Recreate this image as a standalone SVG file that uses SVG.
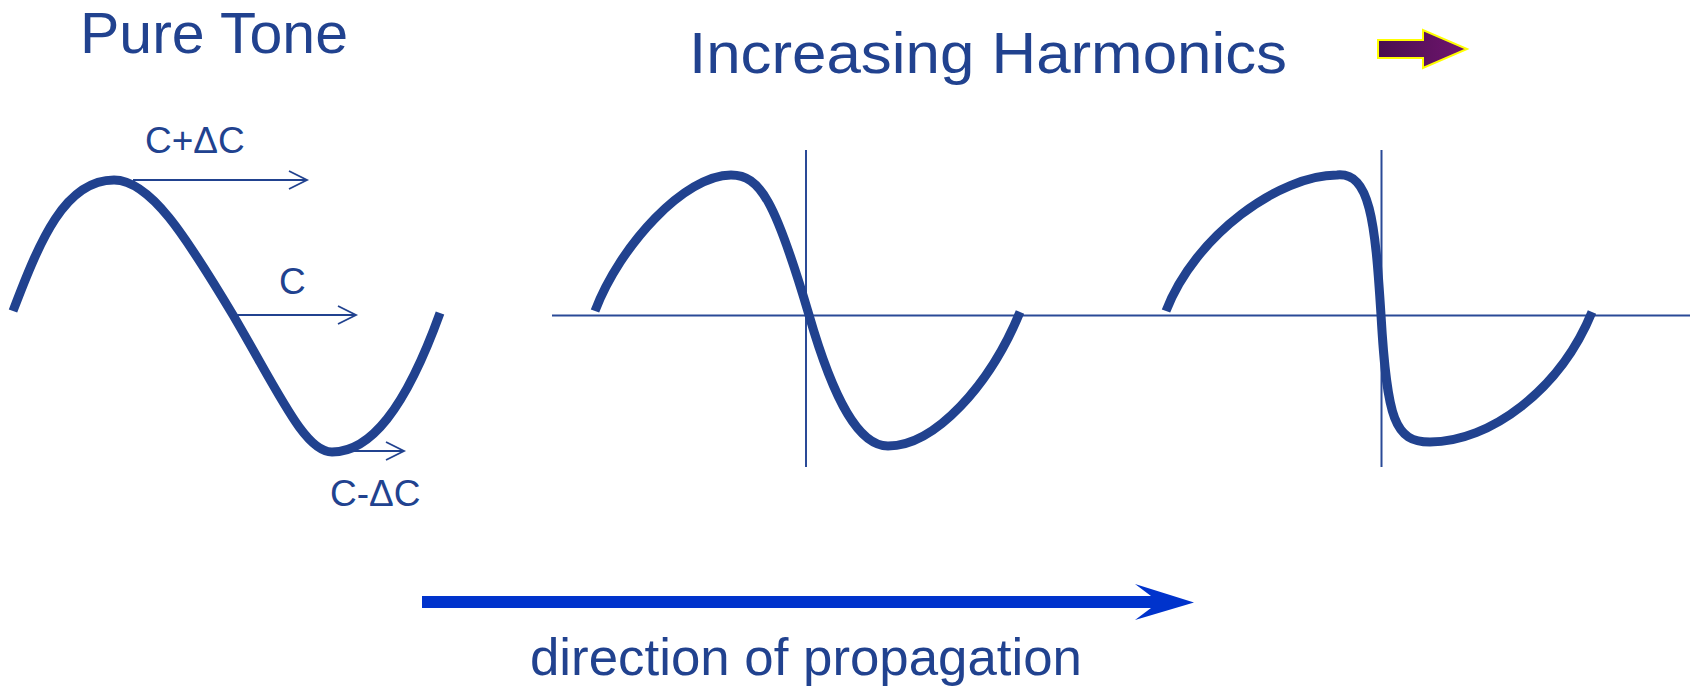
<svg xmlns="http://www.w3.org/2000/svg" width="1696" height="687" viewBox="0 0 1696 687">
  <defs>
    <style>
      .t { font-family: "Liberation Sans", Arial, sans-serif; fill: #21428F; }
      .title { font-size: 58px; }
      .lbl { font-size: 37px; }
      .wave { fill: none; stroke: #21428F; stroke-width: 9; stroke-linecap: butt; stroke-linejoin: round; }
      .axis { fill: none; stroke: #2A4A97; stroke-width: 2; }
      .thin { fill: none; stroke: #21428F; stroke-width: 1.8; marker-end: url(#chev); }
    </style>
    <marker id="chev" markerUnits="userSpaceOnUse" markerWidth="24" markerHeight="24" refX="19" refY="10" orient="auto" viewBox="0 0 24 24">
      <polyline points="1,1 19,10 1,19" fill="none" stroke="#21428F" stroke-width="1.8"/>
    </marker>
    <linearGradient id="pg" x1="0" y1="0" x2="1" y2="0">
      <stop offset="0" stop-color="#4A0F4E"/>
      <stop offset="1" stop-color="#701470"/>
    </linearGradient>
  </defs>

  <g id="title-pure-tone">
    <text class="t title" x="80" y="53" textLength="268" lengthAdjust="spacingAndGlyphs">Pure Tone</text>
  </g>
  <g id="title-harmonics">
    <text class="t title" x="689" y="73" textLength="598" lengthAdjust="spacingAndGlyphs">Increasing Harmonics</text>
  </g>
  <g id="purple-arrow">
    <polygon points="1378,40 1423,40 1423,30 1467,49 1423,68 1423,58 1378,58" fill="url(#pg)" stroke="#FFFF00" stroke-width="2"/>
  </g>

  <g id="pure-tone-wave">
    <path class="wave" d="M13,311 C40,240 65,180 114,180 C150,180 185,235 233,315 C280,395 305,452 332,452 C370,452 405,410 440,313"/>
  </g>
  <g id="labels-speeds">
    <text class="t lbl" x="145" y="153">C+ΔC</text>
    <text class="t lbl" x="279" y="294">C</text>
    <text class="t lbl" x="330" y="506">C-ΔC</text>
  </g>

  <g id="axes">
    <line class="axis" x1="552" y1="315.5" x2="1690" y2="315.5"/>
    <line class="axis" x1="806" y1="150" x2="806" y2="467"/>
    <line class="axis" x1="1381.5" y1="150" x2="1381.5" y2="467"/>
  </g>

  <g id="harmonic-wave-1">
    <path class="wave" d="M595,311 C620,245 685,175 731,175 C760,175 775,200 809,315 C835,405 860,446 888,446 C935,446 990,385 1020,312"/>
  </g>
  <g id="harmonic-wave-2">
    <path class="wave" d="M1166,311 C1195,235 1280,175 1337,175 C1370,172 1375,220 1381,315 C1387,420 1395,442 1430,442 C1490,442 1560,390 1592,312"/>
  </g>

  <g id="connectors">
    <line class="thin" x1="133" y1="180" x2="307" y2="180"/>
    <line class="thin" x1="233" y1="315" x2="356" y2="315"/>
    <line class="thin" x1="353" y1="451" x2="404" y2="451"/>
    <polygon id="propagation-arrow" points="422,596 1151,596 1135,584 1194,602.5 1135,620 1151,608 422,608" fill="#0033CC"/>
  </g>

  <g id="label-propagation">
    <text class="t" x="530" y="675" font-size="52" textLength="552" lengthAdjust="spacingAndGlyphs">direction of propagation</text>
  </g>
</svg>
